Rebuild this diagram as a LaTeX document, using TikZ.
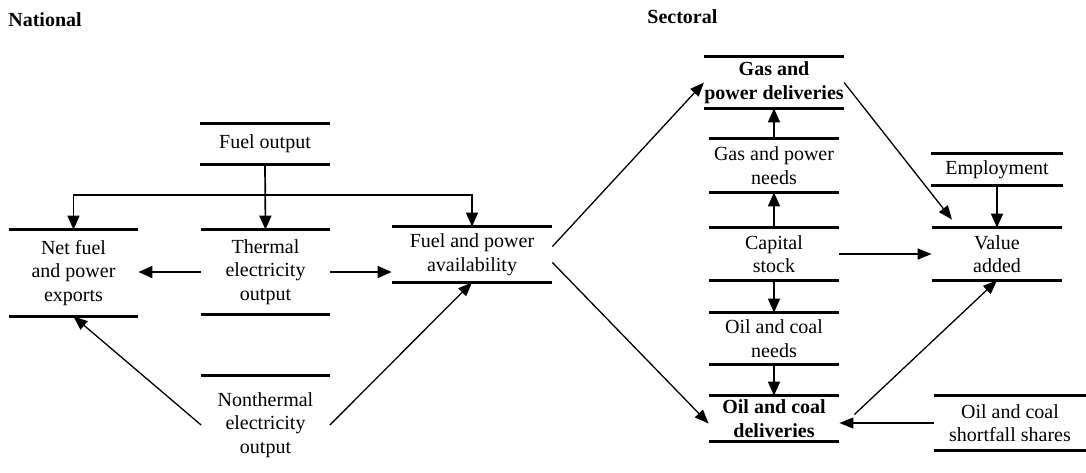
\documentclass[tikz,border=0pt]{standalone}
\usepackage{fontspec}
\setmainfont{Liberation Serif}
\usetikzlibrary{arrows.meta,calc}

\tikzset{
  box/.style={align=center, inner sep=0pt, font=\fontsize{10}{11.75}\selectfont},
  boldbox/.style={box, font=\fontsize{10}{11.75}\selectfont\bfseries},
  head/.style={anchor=base west, inner sep=0pt, font=\fontsize{10}{12}\selectfont\bfseries},
  bar/.style={line width=1.5pt},
  arr/.style={-{Triangle[length=7pt,width=6pt]}, line width=0.85pt},
  slant/.style={-{Triangle[length=7pt,width=5.5pt]}, line width=0.65pt},
}

\begin{document}
\begin{tikzpicture}[x=0.5pt,y=-0.5pt]
\useasboundingbox (0,0) rectangle (1086,472);

% headings
\node[head] (national) at (8,26) {National};
\node[head] (sectoral) at (647,23) {Sectoral};

% national side
\node[box, minimum width=65pt, minimum height=20pt] (fuel) at (265,144) {Fuel output};
\node[box, minimum width=64.5pt, minimum height=43pt] (exports) at (73.5,273) {Net fuel\\and power\\exports};
\node[box, minimum width=64pt, minimum height=42pt] (thermal) at (265.5,272) {Thermal\\electricity\\output};
\node[box, minimum width=64pt, minimum height=49pt] (nonthermal) at (265.5,425) {Nonthermal\\electricity\\output};
\node[box, minimum width=80pt, minimum height=27.5pt] (avail) at (472,254.5) {Fuel and power\\availability};

% sectoral side
\node[boldbox, minimum width=65pt, minimum height=25.5pt] (gasdel) at (774,82.5) {Gas and\\power deliveries};
\node[box, minimum width=65pt, minimum height=26.5pt] (gasneed) at (774,165.5) {Gas and power\\needs};
\node[box, minimum width=65pt, minimum height=26pt] (capital) at (774,254) {Capital\\stock};
\node[box, minimum width=65pt, minimum height=25.5pt] (oilneed) at (774,338.5) {Oil and coal\\needs};
\node[boldbox, minimum width=65pt, minimum height=22.5pt] (oildel) at (774,418.5) {Oil and coal\\deliveries};
\node[box, minimum width=66pt, minimum height=15.5pt] (employ) at (997,169.5) {Employment};
\node[box, minimum width=65pt, minimum height=26pt] (value) at (997,254) {Value\\added};
\node[box, minimum width=76pt, minimum height=27pt] (short) at (1010,423) {Oil and coal\\shortfall shares};

% top and bottom rules of the stores
\foreach \n in {fuel,exports,thermal,avail,gasdel,gasneed,capital,oilneed,oildel,employ,value,short}
  \draw[bar] (\n.north west) -- (\n.north east) (\n.south west) -- (\n.south east);
\draw[bar] (nonthermal.north west) -- (nonthermal.north east);

% national flows
\coordinate (split) at (265,195);
\draw[arr] (fuel.south) -- (thermal.north);
\draw[arr] (split) -| (exports.north);
\draw[arr] (split) -| (avail.north);
\draw[arr] (thermal.west) -- (thermal.west -| exports.east);
\draw[arr] (thermal.east) -- (thermal.east -| avail.west);
\draw[slant] (nonthermal.west) -- (exports.south);
\draw[slant] (nonthermal.east) -- (avail.south);

% into the sectors
\draw[slant] ($(avail.east)+(0,-8)$) -- (gasdel.west);
\draw[slant] ($(avail.east)+(0,8)$) -- ($(oildel.west)+(0,5)$);

% sectoral flows
\draw[arr] (gasneed.north) -- (gasdel.south);
\draw[arr] (capital.north) -- (gasneed.south);
\draw[arr] (capital.south) -- (oilneed.north);
\draw[arr] (oilneed.south) -- (oildel.north);
\draw[arr] (employ.south) -- (value.north);
\draw[slant] (gasdel.east) -- ($(value.north)+(-45,-8)$);
\draw[slant] (capital.east) -- (value.west);
\draw[slant] ($(oildel.east)+(15,-4)$) -- (value.south);
\draw[slant] (short.west) -- (short.west -| oildel.east);
\end{tikzpicture}
\end{document}
